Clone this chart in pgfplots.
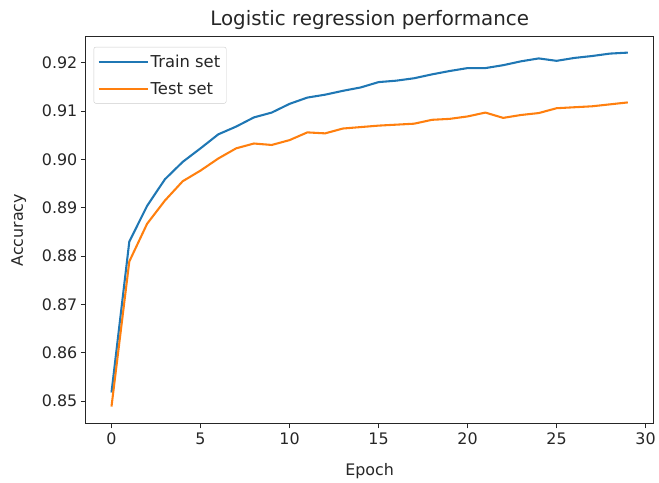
\documentclass[border=0pt]{standalone}
\usepackage{pgfplots}
\pgfplotsset{compat=1.18}
\usepackage{fontspec}
\setmainfont{DejaVu Sans}
\definecolor{tabblue}{HTML}{1F77B4}
\definecolor{taborange}{HTML}{FF7F0E}
\begin{document}
\begin{tikzpicture}
\begin{axis}[
  scale only axis, width=570bp, height=388bp,
  xmin=-1.45, xmax=30.45, ymin=0.8454, ymax=0.92536,
  xtick={0,5,10,15,20,25,30},
  ytick={0.85,0.86,0.87,0.88,0.89,0.90,0.91,0.92},
  yticklabel style={/pgf/number format/.cd,fixed,fixed zerofill,precision=2},
  /pgf/number format/assume math mode=true,
  ticklabel style={font=\fontsize{16}{19}\selectfont, text=black!85},
  xticklabel style={yshift=-1bp},
  label style={font=\fontsize{16}{19}\selectfont, text=black!85},
  xlabel style={yshift=-12bp},
  ylabel style={yshift=9bp},
  title style={font=\fontsize{20}{24}\selectfont, yshift=-2bp, text=black!85},
  title={Logistic regression performance},
  xlabel={Epoch}, ylabel={Accuracy},
  tick align=outside, xtick pos=bottom, ytick pos=left,
  major tick length=4.9bp,
  every tick/.style={black!85, line width=1.1bp},
  axis line style={black!85, line width=1.1bp},
  legend style={at={(0.014,0.974)}, anchor=north west, draw=black!20, rounded corners=2bp,
    fill=white, font=\fontsize{16.5}{19}\selectfont, text=black!85, row sep=10bp, inner xsep=4bp, inner ysep=5.5bp},
  legend cell align=left,
  legend image code/.code={\draw[#1, line width=2.08bp] (0bp,0bp) -- (37bp,0bp); \path (0bp,0bp) -- (49bp,0bp);},
]
\addplot[tabblue, line width=2.08bp] coordinates {
(0,0.8518)(1,0.8830)(2,0.8904)(3,0.8959)(4,0.8995)(5,0.9023)(6,0.9052)(7,0.9068)(8,0.9087)(9,0.9097)
(10,0.9115)(11,0.9128)(12,0.9134)(13,0.9142)(14,0.9149)(15,0.9160)(16,0.9163)(17,0.9168)(18,0.9176)(19,0.9183)
(20,0.9189)(21,0.9189)(22,0.9195)(23,0.9203)(24,0.9209)(25,0.9204)(26,0.9210)(27,0.9214)(28,0.9219)(29,0.9221)};
\addlegendentry{Train set\hspace{5bp}}
\addplot[taborange, line width=2.08bp] coordinates {
(0,0.8489)(1,0.8789)(2,0.8867)(3,0.8915)(4,0.8955)(5,0.8977)(6,0.9002)(7,0.9023)(8,0.9033)(9,0.9030)
(10,0.9040)(11,0.9056)(12,0.9054)(13,0.9064)(14,0.9067)(15,0.9070)(16,0.9072)(17,0.9074)(18,0.9082)(19,0.9084)
(20,0.9089)(21,0.9097)(22,0.9086)(23,0.9092)(24,0.9096)(25,0.9106)(26,0.9108)(27,0.9110)(28,0.9114)(29,0.9118)};
\addlegendentry{Test set}
\end{axis}
\path (current axis.south west) +(-86bp,-55bp) (current axis.north east) +(3bp,37bp);
\end{tikzpicture}
\end{document}
